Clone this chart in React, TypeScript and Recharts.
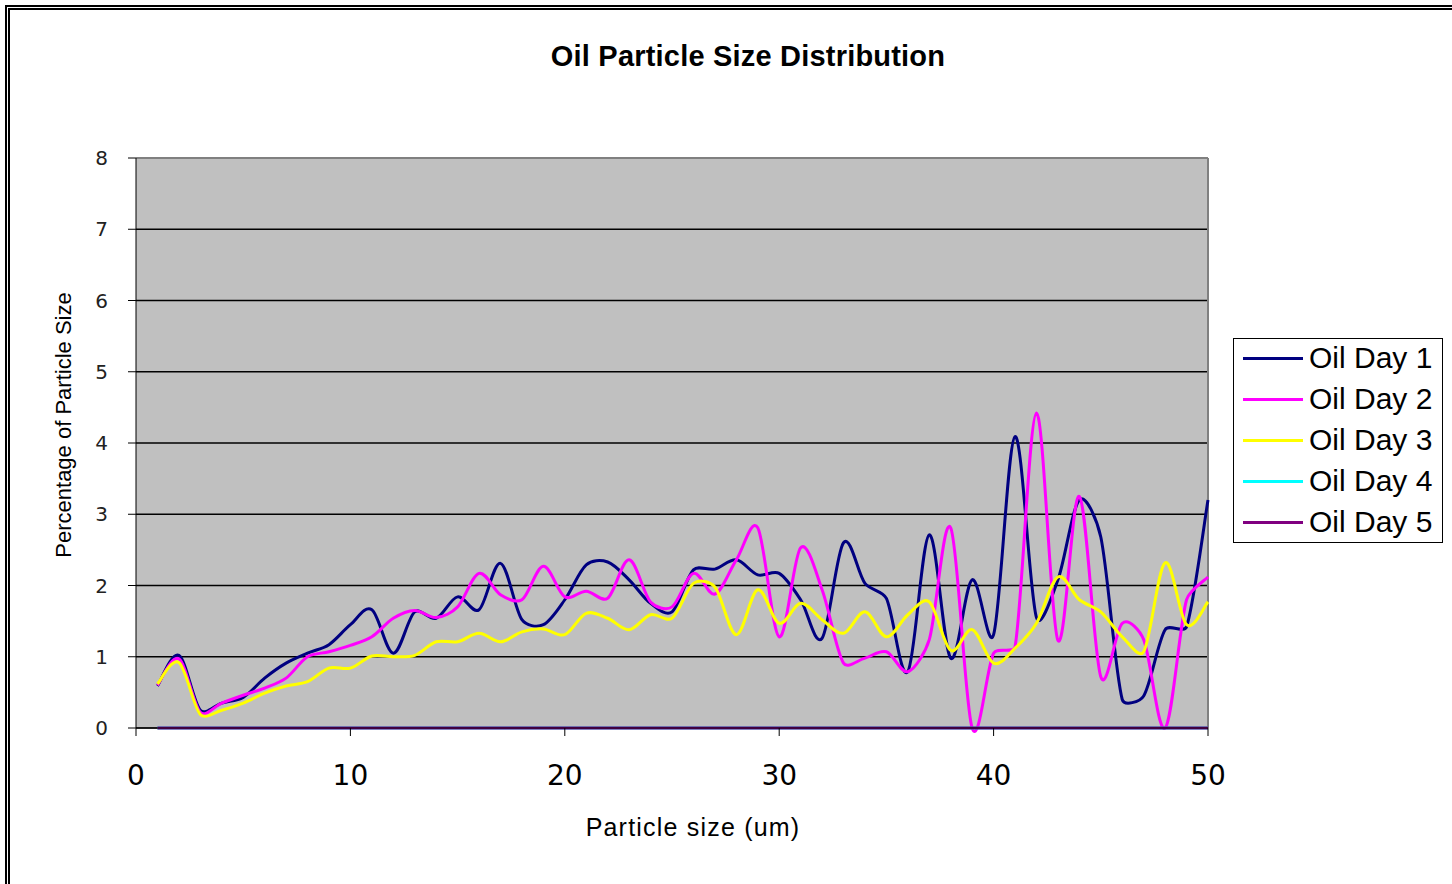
import {
  LineChart, Line, XAxis, YAxis, CartesianGrid, ReferenceLine,
} from "recharts";

const SIZES = [
  1, 2, 3, 4, 5, 6, 7, 8, 9, 10,
  11, 12, 13, 14, 15, 16, 17, 18, 19, 20,
  21, 22, 23, 24, 25, 26, 27, 28, 29, 30,
  31, 32, 33, 34, 35, 36, 37, 38, 39, 40,
  41, 42, 43, 44, 45, 46, 47, 48, 49, 50,
];

const DAY1 = [
  0.59, 1.02, 0.25, 0.35, 0.43, 0.7, 0.91, 1.05, 1.17, 1.45,
  1.66, 1.05, 1.63, 1.54, 1.84, 1.66, 2.31, 1.52, 1.45, 1.8,
  2.29, 2.33, 2.08, 1.75, 1.63, 2.22, 2.23, 2.36, 2.15, 2.17,
  1.8, 1.26, 2.6, 2.03, 1.82, 0.79, 2.71, 0.98, 2.08, 1.31,
  4.09, 1.55, 2.08, 3.2, 2.68, 0.4, 0.45, 1.38, 1.42, 3.2,
];

const DAY2 = [
  0.6, 0.97, 0.22, 0.35, 0.46, 0.56, 0.7, 1.0, 1.07, 1.16,
  1.28, 1.54, 1.65, 1.55, 1.7, 2.17, 1.87, 1.8, 2.27, 1.84,
  1.92, 1.82, 2.36, 1.77, 1.7, 2.17, 1.88, 2.36, 2.81, 1.28,
  2.53, 1.94, 0.91, 0.98, 1.07, 0.79, 1.24, 2.81, 0.0, 1.05,
  1.14, 4.42, 1.23, 3.25, 0.72, 1.47, 1.24, 0.0, 1.8, 2.12,
];

const DAY3 = [
  0.62, 0.92, 0.19, 0.25, 0.35, 0.49, 0.59, 0.65, 0.84, 0.84,
  1.01, 1.0, 1.02, 1.21, 1.21, 1.33, 1.21, 1.35, 1.39, 1.31,
  1.61, 1.54, 1.38, 1.59, 1.54, 2.03, 1.98, 1.31, 1.94, 1.47,
  1.75, 1.52, 1.33, 1.63, 1.28, 1.59, 1.77, 1.09, 1.38, 0.91,
  1.12, 1.47, 2.12, 1.8, 1.63, 1.28, 1.07, 2.32, 1.45, 1.77,
];

const DAY4 = SIZES.map(() => 0);
const DAY5 = SIZES.map(() => 0);

const X_TICKS = [0, 10, 20, 30, 40, 50];
const Y_TICKS = [0, 1, 2, 3, 4, 5, 6, 7, 8];

const SERIES = [
  { key: "day1", name: "Oil Day 1", color: "#000080", values: DAY1 },
  { key: "day2", name: "Oil Day 2", color: "#ff00ff", values: DAY2 },
  { key: "day3", name: "Oil Day 3", color: "#ffff00", values: DAY3 },
  { key: "day4", name: "Oil Day 4", color: "#00ffff", values: DAY4 },
  { key: "day5", name: "Oil Day 5", color: "#800080", values: DAY5 },
];

const data = SIZES.map((size, i) => {
  const row: Record<string, number> = { size };
  SERIES.forEach((s) => { row[s.key] = s.values[i]; });
  return row;
});

const SANS = "'Liberation Sans', Arial, sans-serif";
const TICK_FONT = "'DejaVu Sans', Verdana, sans-serif";

const dist = (a: number[], b: number[]) => Math.hypot(b[0] - a[0], b[1] - a[1]);

// excel-style smoothed line: catmull-rom, with the handles shortened on short segments
function excelCurve(context: any) {
  let pts: [number, number][] = [];
  return {
    areaStart() {},
    areaEnd() {},
    lineStart() { pts = []; },
    point(x: number, y: number) { pts.push([+x, +y]); },
    lineEnd() {
      if (!pts.length) return;
      context.moveTo(pts[0][0], pts[0][1]);
      for (let i = 0; i < pts.length - 1; i++) {
        const p0 = pts[i - 1] || pts[i];
        const p1 = pts[i];
        const p2 = pts[i + 1];
        const p3 = pts[i + 2] || pts[i + 1];
        const d12 = dist(p1, p2);
        const d02 = dist(p0, p2) || 1;
        const d13 = dist(p1, p3) || 1;
        const k1 = Math.min(1, (2 * d12) / d02) / 6;
        const k2 = Math.min(1, (2 * d12) / d13) / 6;
        context.bezierCurveTo(
          p1[0] + (p2[0] - p0[0]) * k1, p1[1] + (p2[1] - p0[1]) * k1,
          p2[0] - (p3[0] - p1[0]) * k2, p2[1] - (p3[1] - p1[1]) * k2,
          p2[0], p2[1],
        );
      }
    },
  };
}

function YLabel({ viewBox }: any) {
  const cx = viewBox.x + 3;
  const cy = viewBox.y + viewBox.height / 2 - 18;
  return (
    <text
      x={cx}
      y={cy}
      transform={`rotate(-90, ${cx}, ${cy})`}
      textAnchor="middle"
      dominantBaseline="central"
      fontFamily={SANS}
      fontSize={22}
      fill="#000"
    >
      Percentage of Particle Size
    </text>
  );
}

export default function App() {
  return (
    <div style={{ position: "absolute", left: 0, top: 0, width: 1452, height: 884, background: "#fff", overflow: "hidden" }}>
      <div style={{ position: "absolute", left: 5, top: 5, width: 1470, height: 900, border: "5px double #000" }} />
      <div
        style={{
          position: "absolute", left: 0, width: 1496, top: 40, textAlign: "center",
          fontFamily: SANS, fontWeight: "bold", fontSize: 29, letterSpacing: 0.2, color: "#000",
        }}
      >
        Oil Particle Size Distribution
      </div>
      <div style={{ position: "absolute", left: 0, top: 0 }}>
        <LineChart width={1452} height={884} data={data} margin={{ top: 158, right: 244, left: 60, bottom: 66 }}>
          <CartesianGrid fill="#c0c0c0" stroke="#000" strokeWidth={1.5} vertical={false} />
          <XAxis
            dataKey="size"
            type="number"
            domain={[0, 50]}
            ticks={X_TICKS}
            height={90}
            tickSize={8}
            tickMargin={29}
            stroke="#000"
            tick={{ fill: "#000", fontSize: 28, fontFamily: TICK_FONT }}
            label={{
              value: "Particle size (um)", position: "bottom", offset: 0, dx: 21,
              fill: "#000", fontSize: 25, fontFamily: SANS, letterSpacing: 1.2,
            }}
          />
          <YAxis
            type="number"
            domain={[0, 8]}
            ticks={Y_TICKS}
            width={76}
            tickSize={8}
            tickMargin={20}
            stroke="#000"
            tick={{ fill: "#222", fontSize: 20, fontFamily: TICK_FONT }}
            label={<YLabel />}
          />
          <ReferenceLine y={8} stroke="#808080" strokeWidth={2} />
          <ReferenceLine x={50} stroke="#808080" strokeWidth={2} />
          {SERIES.map((s) => (
            <Line
              key={s.key}
              type={excelCurve as any}
              dataKey={s.key}
              name={s.name}
              stroke={s.color}
              strokeWidth={3}
              dot={false}
              isAnimationActive={false}
            />
          ))}
        </LineChart>
      </div>
      <div
        style={{
          position: "absolute", left: 1233, top: 338, width: 210, height: 205,
          border: "1px solid #000", background: "#fff", boxSizing: "border-box",
        }}
      >
        {SERIES.map((s, i) => (
          <div key={s.key} style={{ position: "absolute", left: 0, top: 1 + i * 41, height: 36, display: "flex", alignItems: "center" }}>
            <div style={{ marginLeft: 9, width: 60, height: 3, background: s.color }} />
            <span style={{ marginLeft: 6, fontFamily: SANS, fontSize: 30, color: "#000" }}>
              {s.name}
            </span>
          </div>
        ))}
      </div>
    </div>
  );
}
